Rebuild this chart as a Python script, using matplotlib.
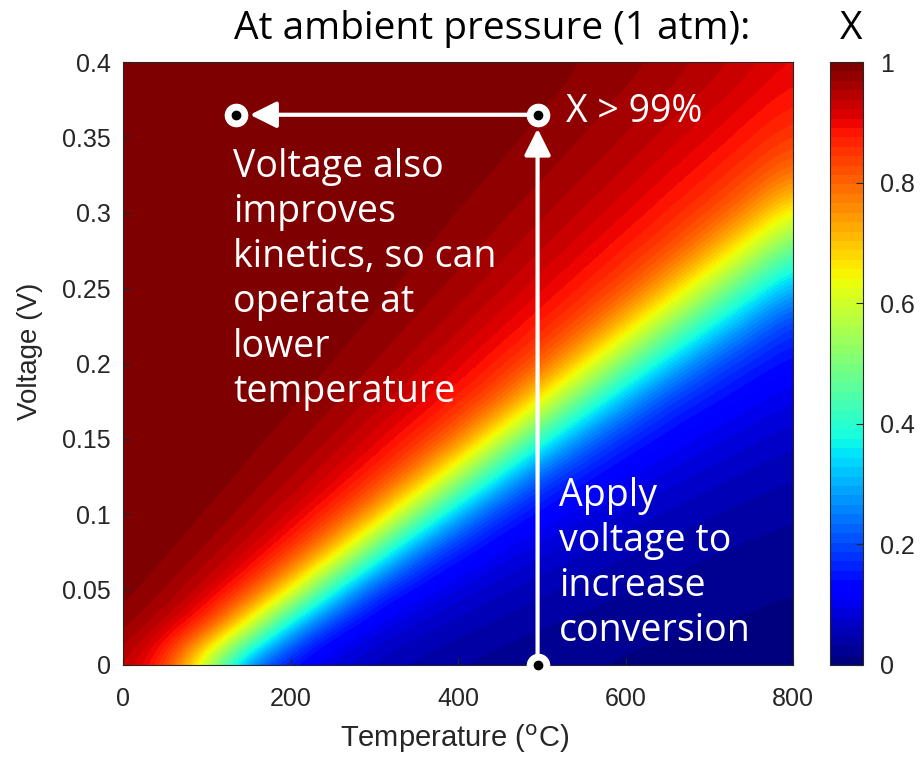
import numpy as np
import matplotlib.pyplot as plt

# grid: temperature (C) columns, voltage (V) rows
temps = [0, 50, 100, 150, 200, 250, 300, 350, 400, 450, 500, 550, 600, 650, 700, 750, 800]
volts = [0, 0.025, 0.05, 0.075, 0.1, 0.125, 0.15, 0.175, 0.2, 0.225, 0.25, 0.275, 0.3, 0.325, 0.35, 0.375, 0.4]
conv = [
    [0.944, 0.852, 0.54, 0.208, 0.118, 0.076, 0.053, 0.038, 0.029, 0.023, 0.019, 0.016, 0.013, 0.011, 0.010, 0.009, 0.008],
    [0.981, 0.938, 0.857, 0.618, 0.291, 0.147, 0.098, 0.069, 0.051, 0.039, 0.030, 0.025, 0.020, 0.017, 0.015, 0.013, 0.011],
    [0.994, 0.975, 0.932, 0.861, 0.677, 0.371, 0.177, 0.121, 0.087, 0.064, 0.049, 0.039, 0.032, 0.026, 0.022, 0.019, 0.016],
    [0.998, 0.990, 0.969, 0.928, 0.864, 0.721, 0.443, 0.228, 0.144, 0.105, 0.079, 0.061, 0.048, 0.039, 0.032, 0.027, 0.023],
    [0.999, 0.996, 0.986, 0.964, 0.924, 0.867, 0.754, 0.505, 0.287, 0.167, 0.123, 0.094, 0.073, 0.058, 0.047, 0.039, 0.033],
    [1.0, 0.999, 0.994, 0.982, 0.959, 0.921, 0.869, 0.779, 0.560, 0.343, 0.195, 0.142, 0.109, 0.086, 0.069, 0.057, 0.047],
    [1.0, 1.0, 0.997, 0.991, 0.978, 0.955, 0.918, 0.870, 0.801, 0.603, 0.397, 0.239, 0.160, 0.125, 0.099, 0.080, 0.066],
    [1.0, 1.0, 0.999, 0.996, 0.989, 0.974, 0.951, 0.917, 0.872, 0.816, 0.641, 0.445, 0.283, 0.179, 0.141, 0.113, 0.092],
    [1.0, 1.0, 1.0, 0.998, 0.994, 0.986, 0.971, 0.947, 0.915, 0.872, 0.822, 0.673, 0.490, 0.327, 0.211, 0.156, 0.126],
    [1.0, 1.0, 1.0, 0.999, 0.997, 0.992, 0.983, 0.967, 0.944, 0.913, 0.873, 0.826, 0.698, 0.530, 0.371, 0.248, 0.171],
    [1.0, 1.0, 1.0, 1.0, 0.998, 0.996, 0.990, 0.980, 0.964, 0.942, 0.911, 0.874, 0.831, 0.723, 0.567, 0.411, 0.283],
    [1.0, 1.0, 1.0, 1.0, 0.999, 0.998, 0.994, 0.988, 0.977, 0.961, 0.939, 0.910, 0.874, 0.835, 0.743, 0.599, 0.448],
    [1.0, 1.0, 1.0, 1.0, 1.0, 0.999, 0.997, 0.992, 0.985, 0.974, 0.958, 0.936, 0.909, 0.875, 0.838, 0.761, 0.625],
    [1.0, 1.0, 1.0, 1.0, 1.0, 1.0, 0.998, 0.995, 0.991, 0.983, 0.972, 0.956, 0.934, 0.907, 0.877, 0.840, 0.774],
    [1.0, 1.0, 1.0, 1.0, 1.0, 1.0, 0.999, 0.997, 0.994, 0.989, 0.981, 0.969, 0.953, 0.932, 0.907, 0.878, 0.843],
    [1.0, 1.0, 1.0, 1.0, 1.0, 1.0, 1.0, 0.998, 0.996, 0.993, 0.987, 0.979, 0.966, 0.951, 0.931, 0.906, 0.878],
    [1.0, 1.0, 1.0, 1.0, 1.0, 1.0, 1.0, 0.999, 0.998, 0.995, 0.991, 0.985, 0.976, 0.964, 0.949, 0.929, 0.905],
]

xticks = [0, 200, 400, 600, 800]
yticks = [0, 0.05, 0.1, 0.15, 0.2, 0.25, 0.3, 0.35, 0.4]
ytick_labels = ['0', '0.05', '0.1', '0.15', '0.2', '0.25', '0.3', '0.35', '0.4']
cticks = [0, 0.2, 0.4, 0.6, 0.8, 1]
ctick_labels = ['0', '0.2', '0.4', '0.6', '0.8', '1']

# path markers: (T, V) of the three dots
dot_T = [135, 495, 495]
dot_V = [0.365, 0.365, 0.0]

note_left = ['Voltage also', 'improves', 'kinetics, so can', 'operate at', 'lower', 'temperature']
note_right = ['Apply', 'voltage to', 'increase', 'conversion']

W, H = 923, 759
gray = '#262626'
plt.rcParams['font.family'] = ['Liberation Sans', 'DejaVu Sans']
fig = plt.figure(figsize=(W / 100, H / 100), dpi=100)
ax = fig.add_axes([123 / W, 1 - 665 / H, 670 / W, 603 / H])
cax = fig.add_axes([830 / W, 1 - 665 / H, 33 / W, 603 / H])

cmap = plt.get_cmap('jet', 64)
dT = (temps[1] - temps[0]) / 2
dV = (volts[1] - volts[0]) / 2
im = ax.imshow(np.array(conv), origin='lower', aspect='auto', cmap=cmap, vmin=0, vmax=1,
               extent=[temps[0] - dT, temps[-1] + dT, volts[0] - dV, volts[-1] + dV],
               interpolation='bicubic')
ax.set_xlim(0, 800)
ax.set_ylim(0, 0.4)
ax.set_xticks(xticks)
ax.set_yticks(yticks)
ax.set_yticklabels(ytick_labels)
ax.tick_params(direction='in', length=5, width=0.8, colors=gray, labelsize=18)
ax.tick_params(axis='x', pad=16)
ax.tick_params(axis='y', pad=9)
for s in ax.spines.values():
    s.set_color(gray)
    s.set_linewidth(0.8)
ax.set_xlabel('Temperature ($^{\\rm o}$C)', fontsize=21, color=gray, va='center')
ax.set_ylabel('Voltage (V)', fontsize=20, color=gray, va='center')
ax.xaxis.set_label_coords(0.495, -0.123)
ax.yaxis.set_label_coords(-0.139, 0.52)

cb = fig.colorbar(im, cax=cax, ticks=cticks)
cb.ax.set_yticklabels(ctick_labels)
cb.ax.tick_params(direction='in', length=5, colors=gray, labelsize=18, pad=12)
cb.outline.set_edgecolor(gray)
cb.outline.set_linewidth(0.8)

# arrows and dots
arr = dict(arrowstyle='-|>,head_length=0.8,head_width=0.4', color='white', lw=3,
           mutation_scale=20, shrinkA=0, shrinkB=10)
ax.annotate('', xy=(dot_T[1], dot_V[1]), xytext=(dot_T[2], dot_V[2]), arrowprops=arr)
ax.annotate('', xy=(dot_T[0], dot_V[0]), xytext=(dot_T[1], dot_V[1]), arrowprops=arr)
ax.plot(dot_T, dot_V, 'o', ms=16, mfc='white', mec='white', clip_on=False, zorder=5)
ax.plot(dot_T, dot_V, 'o', ms=6, mfc='black', mec='black', clip_on=False, zorder=6)

afont = ['Open Sans', 'DejaVu Sans']
tsize = 27
fig.text(566 / W, 1 - 122 / H, 'X > 99%', color='white', fontsize=tsize, family=afont, va='baseline')
for i, line in enumerate(note_left):
    fig.text(233 / W, 1 - (177 + 45 * i) / H, line, color='white', fontsize=tsize,
             family=afont, va='baseline')
for i, line in enumerate(note_right):
    fig.text(559 / W, 1 - (506 + 45 * i) / H, line, color='white', fontsize=tsize,
             family=afont, va='baseline')

fig.text(492 / W, 1 - 39 / H, 'At ambient pressure (1 atm):', fontsize=28, family=afont,
         color='black', ha='center', va='baseline')
fig.text(851 / W, 1 - 39 / H, 'X', fontsize=28, family=afont, color='black',
         ha='center', va='baseline')

fig.savefig('out.png', dpi=100)
